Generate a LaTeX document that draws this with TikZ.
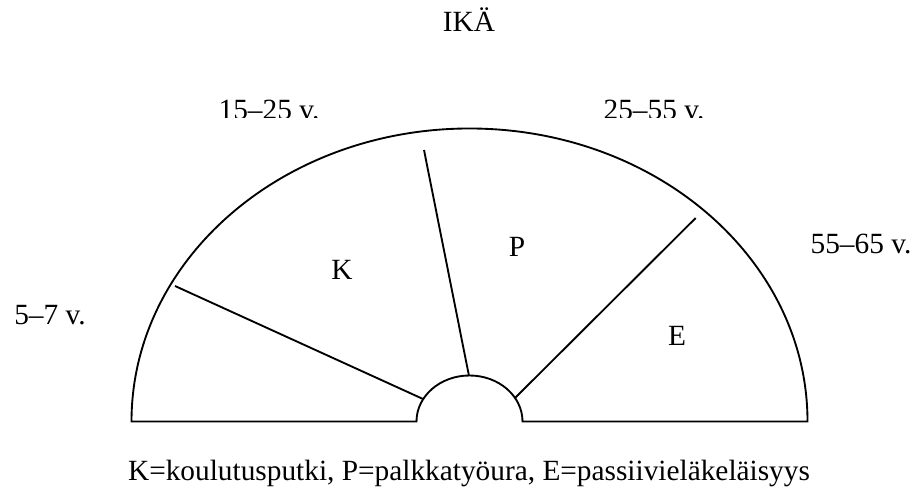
\documentclass[tikz,border=0pt]{standalone}
\usepackage{fontspec}
\setmainfont{Liberation Serif}
\begin{document}
\begin{tikzpicture}[x=0.75pt,y=0.75pt,
    lbl/.style={anchor=base,inner sep=0pt,font=\fontsize{22}{26}\selectfont}]
            \useasboundingbox (0,0) rectangle (917,491);
            % outline: big half ellipse with the small one cut out
            \draw[line width=1.4pt] (131.5,69.5) -- (416.5,69.5)
                arc[start angle=180,end angle=0,x radius=53,y radius=46] -- (807.5,69.5)
                arc[start angle=0,end angle=180,x radius=338,y radius=293] -- cycle;
            \foreach \xa/\ya/\xb/\yb in {423/92/175/205,469/115/424/341,515/93/695.7/273}{
                \draw[line width=1.4pt] (\xa,\ya) -- (\xb,\yb);
            }
            \foreach \n/\x/\y/\t in {ika/469/459/IKÄ,a3/861/237/55--65 v.,a0/50/166/5--7 v.,
                k/342/211/K,p/517/234/P,e/677/145/E}{
                \node[lbl] (\n) at (\x,\y) {\t};
            }
            % the two upper labels are cut off at the bottom
            \begin{scope}
                \clip (0,373) rectangle (917,491);
                \node[lbl] (a1) at (269,371) {15--25 v.};
                \node[lbl] (a2) at (654,371) {25--55 v.};
            \end{scope}
            \node[lbl] (selite) at (469,10) {K=koulutusputki, P=palkkatyöura, E=passiivieläkeläisyys};
        \end{tikzpicture}
\end{document}
